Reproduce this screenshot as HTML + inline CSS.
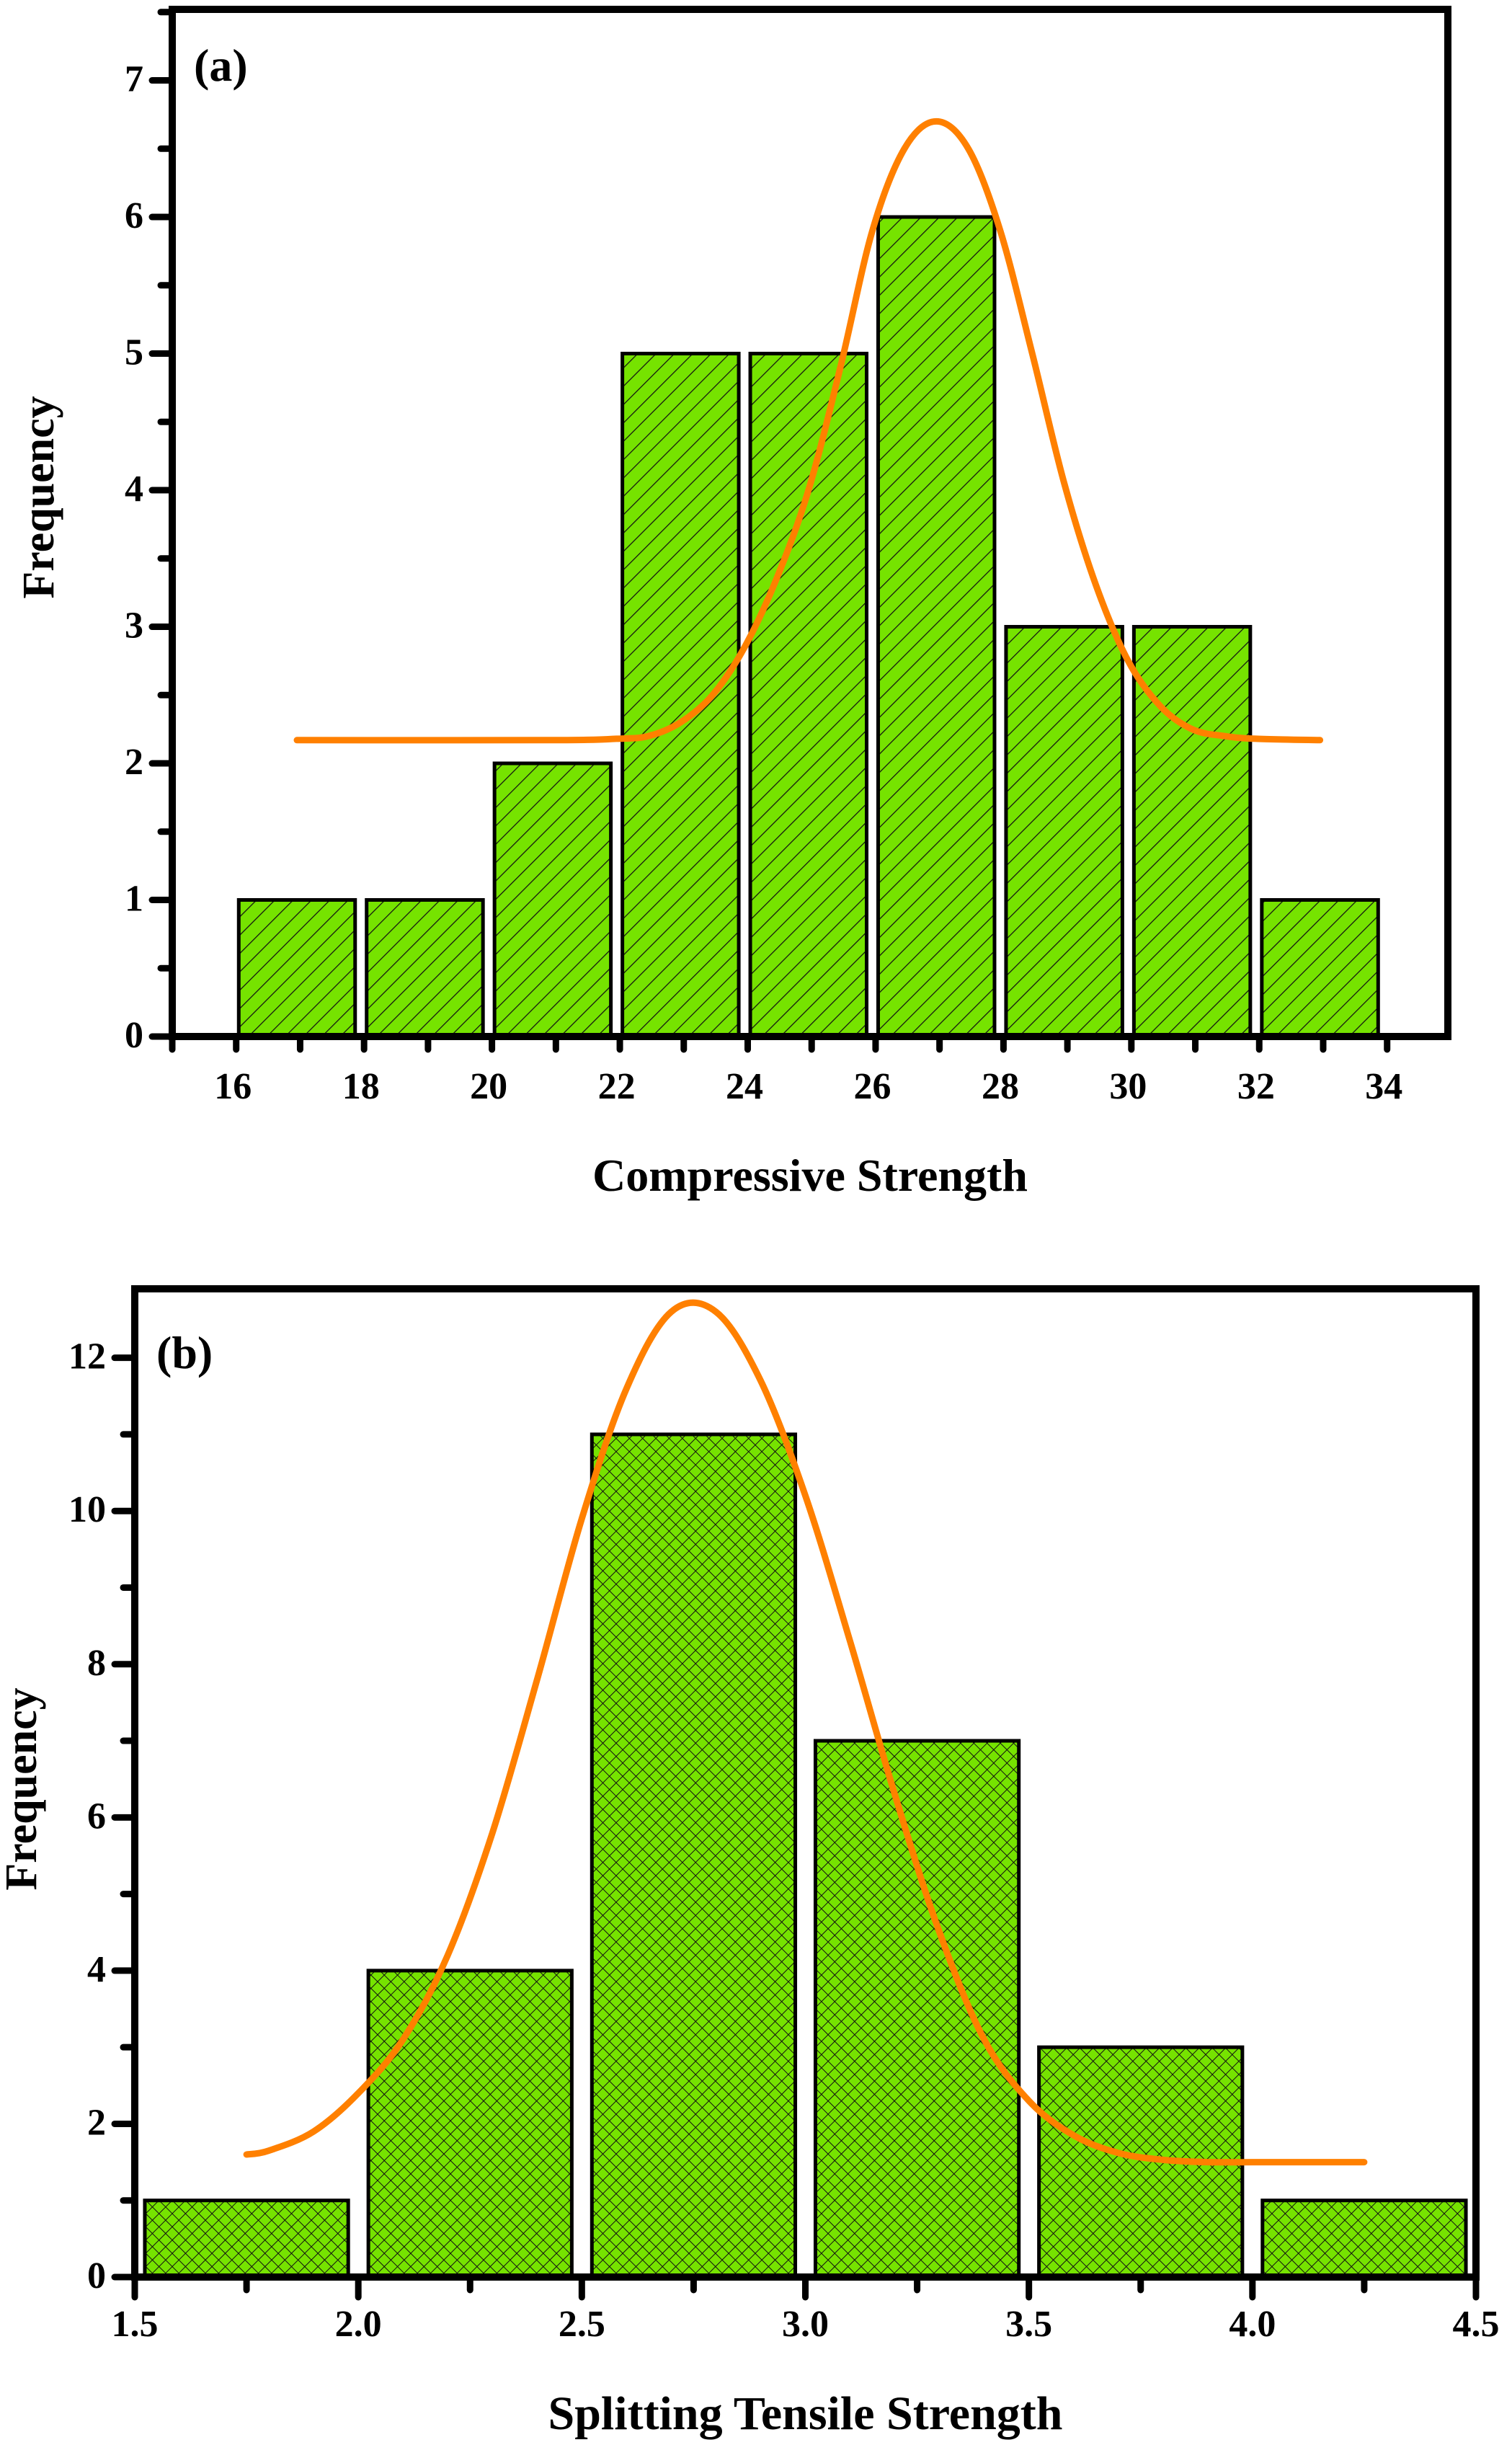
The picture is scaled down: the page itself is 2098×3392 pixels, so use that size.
<!DOCTYPE html>
<html><head><meta charset="utf-8"><style>
html,body{margin:0;padding:0;background:#fff;}
svg{display:block;}
text{font-family:"Liberation Serif",serif;font-weight:bold;fill:#000;}
</style></head><body>
<svg id="chart" width="2098" height="3392" viewBox="0 0 2098 3392" xmlns="http://www.w3.org/2000/svg">
<defs>
<pattern id="hatchA" patternUnits="userSpaceOnUse" width="18" height="18" patternTransform="rotate(45)">
<rect width="18" height="18" fill="#76e300"/>
<line x1="0" y1="0" x2="0" y2="18" stroke="#111" stroke-width="2.5"/>
</pattern>
<pattern id="hatchB" patternUnits="userSpaceOnUse" width="13" height="13" patternTransform="rotate(45)">
<rect width="13" height="13" fill="#76e300"/>
<line x1="0" y1="0" x2="0" y2="13" stroke="#111" stroke-width="2"/>
<line x1="0" y1="0" x2="13" y2="0" stroke="#111" stroke-width="2"/>
</pattern>
</defs>
<g id="panelA"></g>
<g id="panelB"></g>
</svg>
<script>
// Panel (a) data
const binsA = [16,18,20,22,24,26,28,30,32];
const freqA = [1,1,2,5,5,6,3,3,1];
const curveAx = [17,21,22,22.5,23,23.5,24,24.5,25,25.5,26,26.5,27,27.5,28,28.5,29,29.5,30,30.5,31,31.5,32,33];
const curveAy = [2.17,2.17,2.18,2.2,2.3,2.5,2.85,3.35,4.0,4.9,5.9,6.5,6.7,6.5,5.9,5.0,4.05,3.3,2.75,2.42,2.25,2.2,2.18,2.17];
const xTicksA = [16,18,20,22,24,26,28,30,32,34];
const yTicksA = [0,1,2,3,4,5,6,7];
// Panel (b) data
const binsB = [1.5,2.0,2.5,3.0,3.5,4.0];
const freqB = [1,4,11,7,3,1];
const curveBx = [1.75,1.8,1.9,2.0,2.1,2.2,2.3,2.4,2.5,2.6,2.7,2.8,2.9,3.0,3.1,3.2,3.3,3.4,3.5,3.6,3.7,3.8,3.9,4.0,4.1,4.2,4.25];
const curveBy = [1.6,1.65,1.9,2.4,3.1,4.2,5.8,7.8,9.9,11.6,12.6,12.6,11.7,10.2,8.3,6.3,4.5,3.1,2.3,1.85,1.62,1.53,1.5,1.5,1.5,1.5,1.5];
const xTicksB = ["1.5","2.0","2.5","3.0","3.5","4.0","4.5"];
const yTicksB = [0,2,4,6,8,10,12];

const NS="http://www.w3.org/2000/svg";
function mk(parent,tag,attrs,txt){const e=document.createElementNS(NS,tag);for(const k in attrs)e.setAttribute(k,attrs[k]);if(txt!==undefined)e.textContent=txt;parent.appendChild(e);return e;}

function smoothPath(pts){
  let d='M'+pts[0][0].toFixed(1)+' '+pts[0][1].toFixed(1);
  for(let i=0;i<pts.length-1;i++){
    const p0=pts[Math.max(0,i-1)],p1=pts[i],p2=pts[i+1],p3=pts[Math.min(pts.length-1,i+2)];
    const c1=[p1[0]+(p2[0]-p0[0])/6,p1[1]+(p2[1]-p0[1])/6];
    const c2=[p2[0]-(p3[0]-p1[0])/6,p2[1]-(p3[1]-p1[1])/6];
    d+='C'+c1[0].toFixed(1)+' '+c1[1].toFixed(1)+' '+c2[0].toFixed(1)+' '+c2[1].toFixed(1)+' '+p2[0].toFixed(1)+' '+p2[1].toFixed(1);
  }
  return d;
}

function panel(g,cfg){
  const X=v=>cfg.L+(v-cfg.xmin)/(cfg.xmax-cfg.xmin)*(cfg.R-cfg.L);
  const Y=v=>cfg.B-(v-cfg.ymin)/(cfg.ymax-cfg.ymin)*(cfg.B-cfg.T);
  cfg.bins.forEach((b,i)=>{
    const x0=X(b+cfg.bw*0.045), x1=X(b+cfg.bw*0.955);
    const r=mk(g,'rect',{x:x0,y:Y(cfg.freq[i]),width:x1-x0,height:Y(0)-Y(cfg.freq[i]),fill:'url(#'+cfg.pat+')',stroke:'#000','stroke-width':5});
    
    
  });
  const pts=cfg.cx.map((v,i)=>[X(v),Y(cfg.cy[i])]);
  const c=mk(g,'path',{d:smoothPath(pts),fill:'none',stroke:'#ff8000','stroke-width':9,'stroke-linejoin':'round','stroke-linecap':'round'});
  
  
  const f=mk(g,'rect',{x:cfg.L,y:cfg.T,width:cfg.R-cfg.L,height:cfg.B-cfg.T,fill:'none',stroke:'#000','stroke-width':10});
  
  
  const xa=mk(g,'g',{});
  
  
  for(let v=cfg.xmin;v<=cfg.xmax+1e-9;v+=cfg.xminor){
    const major=cfg.xt.some(t=>Math.abs(parseFloat(t)-v)<1e-6);
    mk(xa,'line',{x1:X(v),x2:X(v),y1:cfg.B,y2:cfg.B+(major?28:18),stroke:'#000','stroke-width':9,'stroke-linecap':'round'});
  }
  cfg.xt.forEach(t=>{
    const tx=mk(xa,'text',{x:X(parseFloat(t)),y:cfg.B+cfg.xlabOff,'font-size':52,'text-anchor':'middle'},t);
    
    
  });
  const ya=mk(g,'g',{});
  
  
  for(let v=cfg.ymin;v<=cfg.ymax+1e-9;v+=cfg.yminor){
    const major=cfg.yt.some(t=>Math.abs(t-v)<1e-6);
    mk(ya,'line',{x1:cfg.L,x2:cfg.L-(major?28:16),y1:Y(v),y2:Y(v),stroke:'#000','stroke-width':9,'stroke-linecap':'round'});
  }
  cfg.yt.forEach(t=>{
    const ty=mk(ya,'text',{x:cfg.L-40,y:Y(t)+15,'font-size':52,'text-anchor':'end'},String(t));
    
    
  });
  const xt=mk(g,'text',{x:(cfg.L+cfg.R)/2,y:cfg.xtitleY,'font-size':cfg.xtSize,'text-anchor':'middle'},cfg.xtitle);
  
  
  const yt=mk(g,'text',{x:0,y:0,'font-size':62,'text-anchor':'middle',transform:'translate('+cfg.ytitleX+','+cfg.ytitleY+') rotate(-90)'},'Frequency');
  
  
  const pl=mk(g,'text',{x:cfg.L+30,y:cfg.panelY,'font-size':64},cfg.panelLabel);
  
  
}

panel(document.getElementById('panelA'),{
  L:239,R:2009,T:13,B:1438,xmin:15.05,xmax:35,ymin:0,ymax:7.52,
  bins:binsA,freq:freqA,bw:2,pat:'hatchA',cx:curveAx,cy:curveAy,
  xt:xTicksA.map(String),xminor:1,yt:yTicksA,yminor:0.5,xlabOff:86,
  xtitle:'Compressive Strength',xtitleY:1652,xtSize:64,ytitleX:74,ytitleY:690,
  panelLabel:'(a)',panelY:112
});
panel(document.getElementById('panelB'),{
  L:187,R:2048,T:1788,B:3159,xmin:1.5,xmax:4.5,ymin:0,ymax:12.9,
  bins:binsB,freq:freqB,bw:0.5,pat:'hatchB',cx:curveBx,cy:curveBy,
  xt:xTicksB,xminor:0.25,yt:yTicksB,yminor:1,xlabOff:82,
  xtitle:'Splitting Tensile Strength',xtitleY:3370,xtSize:66,ytitleX:50,ytitleY:2482,
  panelLabel:'(b)',panelY:1898
});
</script>
</body></html>
